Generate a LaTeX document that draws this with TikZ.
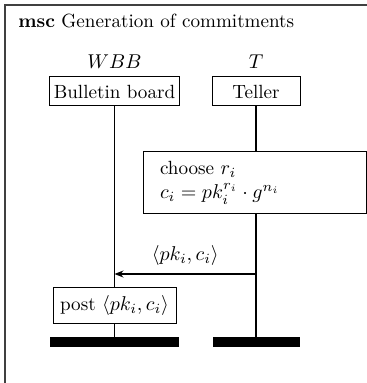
\documentclass[tikz,border=0pt]{standalone}
\usetikzlibrary{arrows.meta}
\begin{document}
\begin{tikzpicture}[x=0.5pt,y=-0.5pt,
  every node/.style={font=\fontsize{9.55}{12}\selectfont},
  frameline/.style={line width=0.7pt,draw=black!75},
  instbox/.style={draw,line width=0.5pt,fill=white,minimum height=14.5pt,inner sep=2pt},
  actbox/.style={draw,line width=0.5pt,fill=white,inner sep=2pt},
  endbar/.style={fill=black,inner sep=0pt,minimum height=5pt},
  lifeline/.style={line width=0.7pt},
  msg/.style={line width=0.6pt,-{Stealth[length=4.5pt,width=3.5pt]}}]
\useasboundingbox (0,0) rectangle (367,383);
\draw[frameline] (367,5) -- (5,5) -- (5,383);
\node[anchor=base west,inner sep=0pt] (title) at (18,28) {\textbf{msc} Generation of commitments};
% instance heads
\node[instbox,minimum width=64pt] (wbb) at (114.5,91.5) {Bulletin board};
\node[instbox,minimum width=44pt] (tel) at (256,91.5) {Teller};
\node (wbbname) at (114.5,62) {$WBB$};
\node (telname) at (256,62) {$T$};
% ends
\node[endbar,minimum width=64.5pt] (wbbend) at (114.5,342) {};
\node[endbar,minimum width=43.5pt] (telend) at (256,342) {};
% lifelines
\draw[lifeline] (wbb.south) -- (wbbend.north);
\draw[lifeline] (tel.south) -- (telend.north);
% action on T
\node[actbox,minimum height=31pt,inner xsep=8.5pt,text width=94.5pt,align=left] (choose) at (254.5,183)
  {choose $r_i$\\ $c_i = pk_i^{r_i}\cdot g^{n_i}$};
% message
\coordinate (tmsg) at (256,274);
\coordinate (wmsg) at (114.5,274);
\draw[msg] (tmsg) -- node[above,inner sep=4pt] (msglabel) {$\langle pk_i, c_i\rangle$} (wmsg);
% action on WBB
\node[actbox,minimum width=61.5pt,minimum height=18pt] (post) at (114.5,305) {post $\langle pk_i, c_i\rangle$};
\end{tikzpicture}
\end{document}
